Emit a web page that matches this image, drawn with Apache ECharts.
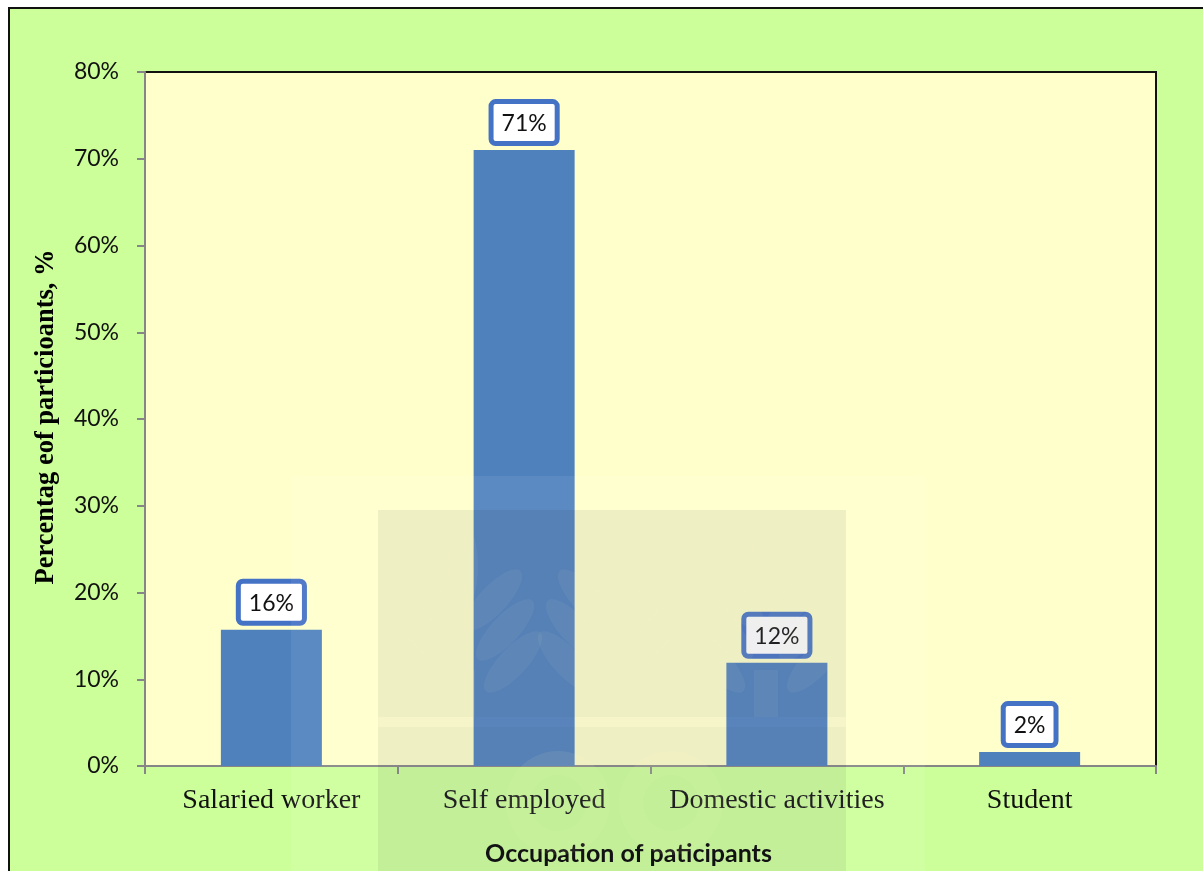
<!DOCTYPE html>
<html>
<head>
<meta charset="utf-8">
<title>Occupation of participants</title>
<script src="https://cdn.jsdelivr.net/npm/echarts@6/dist/echarts.min.js"></script>
<style>
    html, body { margin: 0; height: 100%; background: #fff; overflow: hidden; }
    #frame { position: absolute; left: 8px; top: 7px; width: 1200px; height: 870px; background: #CCFF99; border: 2px solid #111; }
    #chart { position: absolute; left: 0; top: 0; width: 1203px; height: 871px; }
</style>
</head>
<body>
<div id="frame"></div>
<div id="chart"></div>
<script>
const categories = ['Salaried worker', 'Self employed', 'Domestic activities', 'Student']
const shares = [15.7, 71, 11.9, 1.6]
const yTicks = { min: 0, max: 80, interval: 10 }
const stemCenters = [463, 617, 766]
const ringCenters = [558, 671]

const leafColor = 'rgba(255,255,190,0.05)'

// faint logo that sits over the whole picture
function watermark() {
    let items = [
        { type: 'rect', shape: { x: 291, y: 476, width: 634, height: 395 }, style: { fill: 'rgba(255,255,255,0.07)' } },
        { type: 'rect', shape: { x: 378, y: 510, width: 468, height: 207 }, style: { fill: 'rgba(30,30,60,0.07)' } },
        { type: 'rect', shape: { x: 378, y: 717, width: 468, height: 10 }, style: { fill: 'rgba(30,30,60,0.045)' } },
        { type: 'rect', shape: { x: 378, y: 727, width: 468, height: 144 }, style: { fill: 'rgba(30,30,60,0.07)' } }
    ]
    stemCenters.forEach(cx => {
        items.push({ type: 'ellipse', shape: { cx: cx, cy: 566, rx: 15, ry: 44 }, style: { fill: leafColor } })
        items.push({ type: 'rect', shape: { x: cx - 12, y: 670, width: 24, height: 47 }, style: { fill: leafColor } })
        ;[[600, 30], [630, 42], [662, 50]].forEach(([y, dx]) => {
            ;[-1, 1].forEach(side => {
                items.push({
                    type: 'ellipse',
                    x: cx + side * dx,
                    y: y,
                    rotation: side * -0.75,
                    shape: { cx: 0, cy: 0, rx: 14, ry: 40 },
                    style: { fill: leafColor }
                })
            })
        })
    })
    ringCenters.forEach(cx => {
        items.push({
            type: 'ring',
            shape: { cx: cx, cy: 803, r: 52, r0: 28 },
            style: { fill: 'rgba(255,255,190,0.08)' }
        })
    })
    return items.map(item => Object.assign({ silent: true, z: 100 }, item))
}

let chart = echarts.init(document.getElementById('chart'), null, { renderer: 'canvas' })
chart.setOption({
    animation: false,
    backgroundColor: 'transparent',
    grid: {
        show: true,
        outerBoundsMode: 'none',
        left: 145,
        top: 72,
        right: 47,
        bottom: 105,
        backgroundColor: '#FFFFCC',
        borderColor: '#111',
        borderWidth: 2
    },
    xAxis: {
        type: 'category',
        data: categories,
        name: 'Occupation of paticipants',
        nameLocation: 'middle',
        nameGap: 75,
        nameTextStyle: { fontFamily: 'Lato', fontWeight: 'bold', fontSize: 25, color: '#000', padding: [0, 44, 0, 0] },
        axisLine: { lineStyle: { color: '#868686', width: 2 } },
        axisTick: { show: true, alignWithLabel: false, length: 8, lineStyle: { color: '#868686', width: 2 } },
        axisLabel: { interval: 0, margin: 21, fontFamily: 'Liberation Serif', fontSize: 28, color: '#111' }
    },
    yAxis: {
        type: 'value',
        min: yTicks.min,
        max: yTicks.max,
        interval: yTicks.interval,
        name: 'Percentag eof particioants, %',
        nameLocation: 'middle',
        nameGap: 85,
        nameTextStyle: { fontFamily: 'Liberation Serif', fontWeight: 'bold', fontSize: 26.5, color: '#000', padding: [0, 0, 0, 4] },
        splitLine: { show: false },
        axisLine: { show: true, lineStyle: { color: '#868686', width: 2 } },
        axisTick: { show: true, length: 8, lineStyle: { color: '#868686', width: 2 } },
        axisLabel: { margin: 26, fontFamily: 'Lato', fontSize: 23, color: '#111', formatter: '{value}%' }
    },
    series: [{
        type: 'bar',
        data: shares,
        barWidth: 101,
        itemStyle: { color: '#4F81BD' },
        label: {
            show: true,
            position: 'top',
            distance: 9,
            formatter: p => Math.round(p.value) + '%',
            fontFamily: 'Lato',
            fontSize: 23,
            color: '#111',
            backgroundColor: '#fff',
            borderColor: '#4472C4',
            borderWidth: 5,
            borderRadius: 2,
            padding: [8, 8, 6, 8]
        }
    }],
    graphic: watermark()
})
</script>
</body>
</html>
